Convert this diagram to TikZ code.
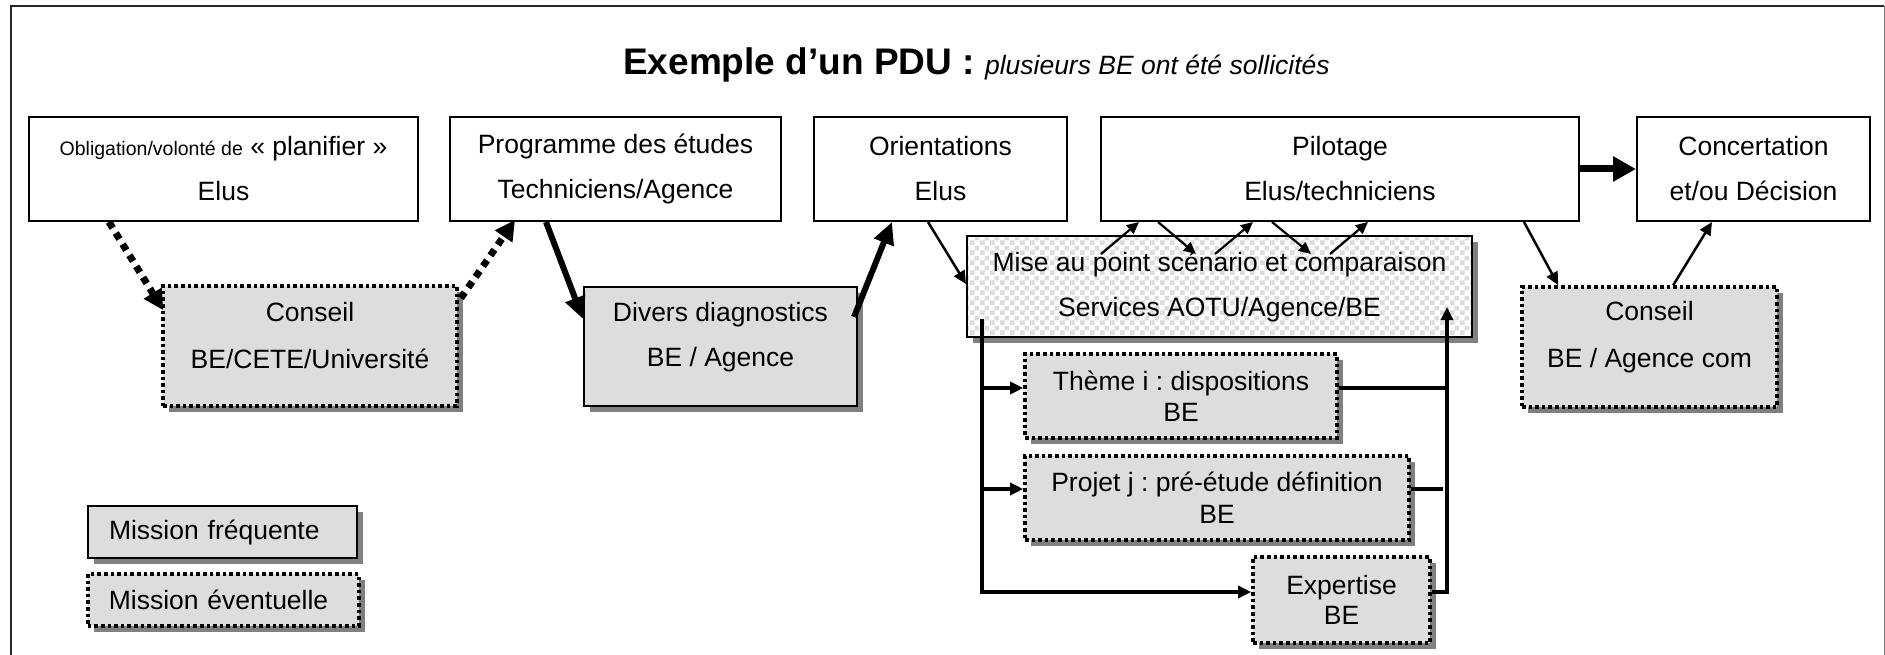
\documentclass[tikz,border=0pt]{standalone}
\usepackage{fontspec}
\setmainfont{Liberation Sans}
\frenchspacing
\usetikzlibrary{arrows.meta,shadows,patterns,calc}
\pgfdeclarepatternformonly{bigcheck}{\pgfqpoint{0pt}{0pt}}{\pgfqpoint{10pt}{10pt}}{\pgfqpoint{10pt}{10pt}}{%
  \pgfpathrectangle{\pgfqpoint{0pt}{0pt}}{\pgfqpoint{5pt}{5pt}}%
  \pgfpathrectangle{\pgfqpoint{5pt}{5pt}}{\pgfqpoint{5pt}{5pt}}%
  \pgfusepath{fill}}
\definecolor{boxgray}{RGB}{221,221,221}
\definecolor{shadowgray}{RGB}{128,128,128}
\definecolor{checkgray}{RGB}{220,220,220}
\tikzset{
  txt/.style={font=\fontsize{26.5}{45}\selectfont, align=center},
  shad/.style={drop shadow={shadow xshift=6pt, shadow yshift=-6pt, fill=shadowgray, opacity=1}},
  whitebox/.style={draw, line width=2pt, fill=white, inner sep=0pt, txt},
  graybox/.style={draw, line width=2pt, fill=boxgray, inner sep=0pt, shad, txt},
  dotbox/.style={draw, line width=3.6pt, dash pattern=on 3.6pt off 3pt, fill=boxgray, inner sep=0pt, shad, txt},
  checkbox/.style={draw, line width=2pt, shad, preaction={fill=white}, pattern=bigcheck, pattern color=checkgray, inner sep=0pt, txt},
  conn/.style={line width=2.5pt, -{Triangle[length=13pt,width=12pt]}},
  zig/.style={line width=2.2pt, -{Triangle[length=12pt,width=11pt]}},
  bus/.style={line width=3.3pt, line join=miter},
  bustip/.style={-{Triangle[length=13pt,width=12pt]}},
  thickarrow/.style={line width=6pt, -{Triangle[length=22pt,width=20pt]}},
  bigarrow/.style={line width=7pt, -{Triangle[length=23pt,width=24pt]}},
  dotarrow/.style={line width=7pt, dash pattern=on 7pt off 6pt, -{Triangle[length=20pt,width=20pt]}},
}
\begin{document}
\begin{tikzpicture}[x=1pt,y=-1pt]
\useasboundingbox (0,0) rectangle (1885,655);
% frame
\draw[line width=2.5pt, black!85] (11,700) -- (11,6) -- (1884,6);
\draw[line width=1pt, gray] (1884,6) -- (1884,700);
% title
\node[anchor=base west, inner sep=0pt] (title) at (623,75)
  {\fontsize{37}{40}\selectfont\bfseries Exemple d’un PDU :\ \fontsize{26.5}{30}\selectfont\mdseries\itshape plusieurs BE ont été sollicités};
% top row
\node[whitebox, minimum width=389pt, minimum height=104pt] (b1) at (223.5,169)
  {{\fontsize{19.5}{22}\selectfont Obligation/volonté de} « planifier »\\Elus};
\node[whitebox, minimum width=331pt, minimum height=104pt] (b2) at (615.5,169)
  {Programme des études\\Techniciens/Agence};
\node[whitebox, minimum width=253pt, minimum height=104pt] (b3) at (940.5,169)
  {Orientations\\Elus};
\node[whitebox, minimum width=478pt, minimum height=104pt] (b4) at (1340,169)
  {Pilotage\\Elus/techniciens};
\node[whitebox, minimum width=233pt, minimum height=104pt] (b5) at (1753.5,169)
  {Concertation\\et/ou Décision};
% second row
\node[dotbox, minimum width=294pt, minimum height=120pt] (c1) at (310,346) {};
\node[txt, font=\fontsize{26.5}{47}\selectfont] (c1t) at ($(c1.center)+(0,-10)$) {Conseil\\BE/CETE/Université};
\node[graybox, minimum width=273pt, minimum height=119pt] (dv) at (720.5,346.5) {};
\node[txt] (dvt) at ($(dv.center)+(0,-9)$) {Divers diagnostics\\BE / Agence};
\node[dotbox, minimum width=255pt, minimum height=120pt] (c2) at (1649.5,347) {};
\node[txt, font=\fontsize{26.5}{47}\selectfont] (c2t) at ($(c2.center)+(0,-10)$) {Conseil\\BE / Agence com};
\node[checkbox, minimum width=505pt, minimum height=101pt] (mise) at (1219.5,286.5)
  {Mise au point scénario et comparaison\\Services AOTU/Agence/BE};
% third rows
\node[dotbox, minimum width=312pt, minimum height=84pt, font=\fontsize{26.5}{31}\selectfont] (th) at (1181,396)
  {Thème i : dispositions\\BE};
\node[dotbox, minimum width=384pt, minimum height=84pt, font=\fontsize{26.5}{32}\selectfont] (pj) at (1217,498)
  {Projet j : pré-étude définition\\BE};
\node[dotbox, minimum width=177pt, minimum height=86pt, font=\fontsize{26.5}{30}\selectfont] (ex) at (1341.5,600)
  {Expertise\\BE};
% legend
\node[graybox, minimum height=52pt, text width=227pt, inner xsep=21pt, align=left, anchor=west] (lf) at (87,532) {Mission fréquente};
\node[dotbox, minimum height=52pt, text width=229pt, inner xsep=21pt, align=left, anchor=west] (le) at (86,600) {Mission éventuelle};
% connectors, left part
\draw[dotarrow] ($(b1.south west)+(81,0)$) -- ($(c1.north west)+(2,26)$);
\draw[dotarrow] ($(c1.north east)+(2,14)$) -- ($(b2.south west)+(66,-2)$);
\draw[thickarrow] ($(b2.south west)+(97,0)$) -- ($(dv.north west)+(0,33)$);
\draw[thickarrow] ($(dv.north east)+(-4,31)$) -- ($(b3.south west)+(79,0)$);
\draw[conn] ($(b3.south west)+(115,0)$) -- ($(mise.north west)+(0,49)$);
% Pilotage / Mise au point
\draw[zig] ($(b4.south west)+(1,32)$) -- ($(b4.south west)+(39,0)$);
\draw[zig] ($(b4.south west)+(58,0)$) -- ($(b4.south west)+(96,32)$);
\draw[zig] ($(b4.south west)+(115,32)$) -- ($(b4.south west)+(153,0)$);
\draw[zig] ($(b4.south west)+(172,0)$) -- ($(b4.south west)+(211,32)$);
\draw[zig] ($(b4.south west)+(230,32)$) -- ($(b4.south west)+(268,0)$);
\draw[bigarrow] (b4.east) -- (b5.west);
\draw[conn] ($(b4.south east)+(-56,0)$) -- ($(c2.north west)+(38,0)$);
\draw[conn] ($(c2.north west)+(153,0)$) -- ($(b5.south west)+(76,0)$);
% buses
\coordinate (ltop) at ($(mise.south west)+(16,-19)$);
\coordinate (rtop) at ($(mise.south east)+(-26,-31)$);
\coordinate (thl) at ($(th.west)+(0,-8)$);
\coordinate (thr) at ($(th.east)+(0,-8)$);
\coordinate (pjl) at ($(pj.west)+(0,-9)$);
\coordinate (pjr) at ($(pj.east)+(0,-9)$);
\coordinate (exl) at ($(ex.west)+(0,-8)$);
\coordinate (exr) at ($(ex.east)+(0,-8)$);
\draw[bus, bustip] (ltop) |- (exl);
\draw[bus, bustip] (ltop |- thl) -- (thl);
\draw[bus, bustip] (ltop |- pjl) -- (pjl);
\draw[bus, bustip] (exr) -| (rtop);
\draw[bus] (thr) -- (thr -| rtop);
\draw[bus] (pjr) -- ($(pjr -| rtop)+(-4,0)$);
\end{tikzpicture}
\end{document}
